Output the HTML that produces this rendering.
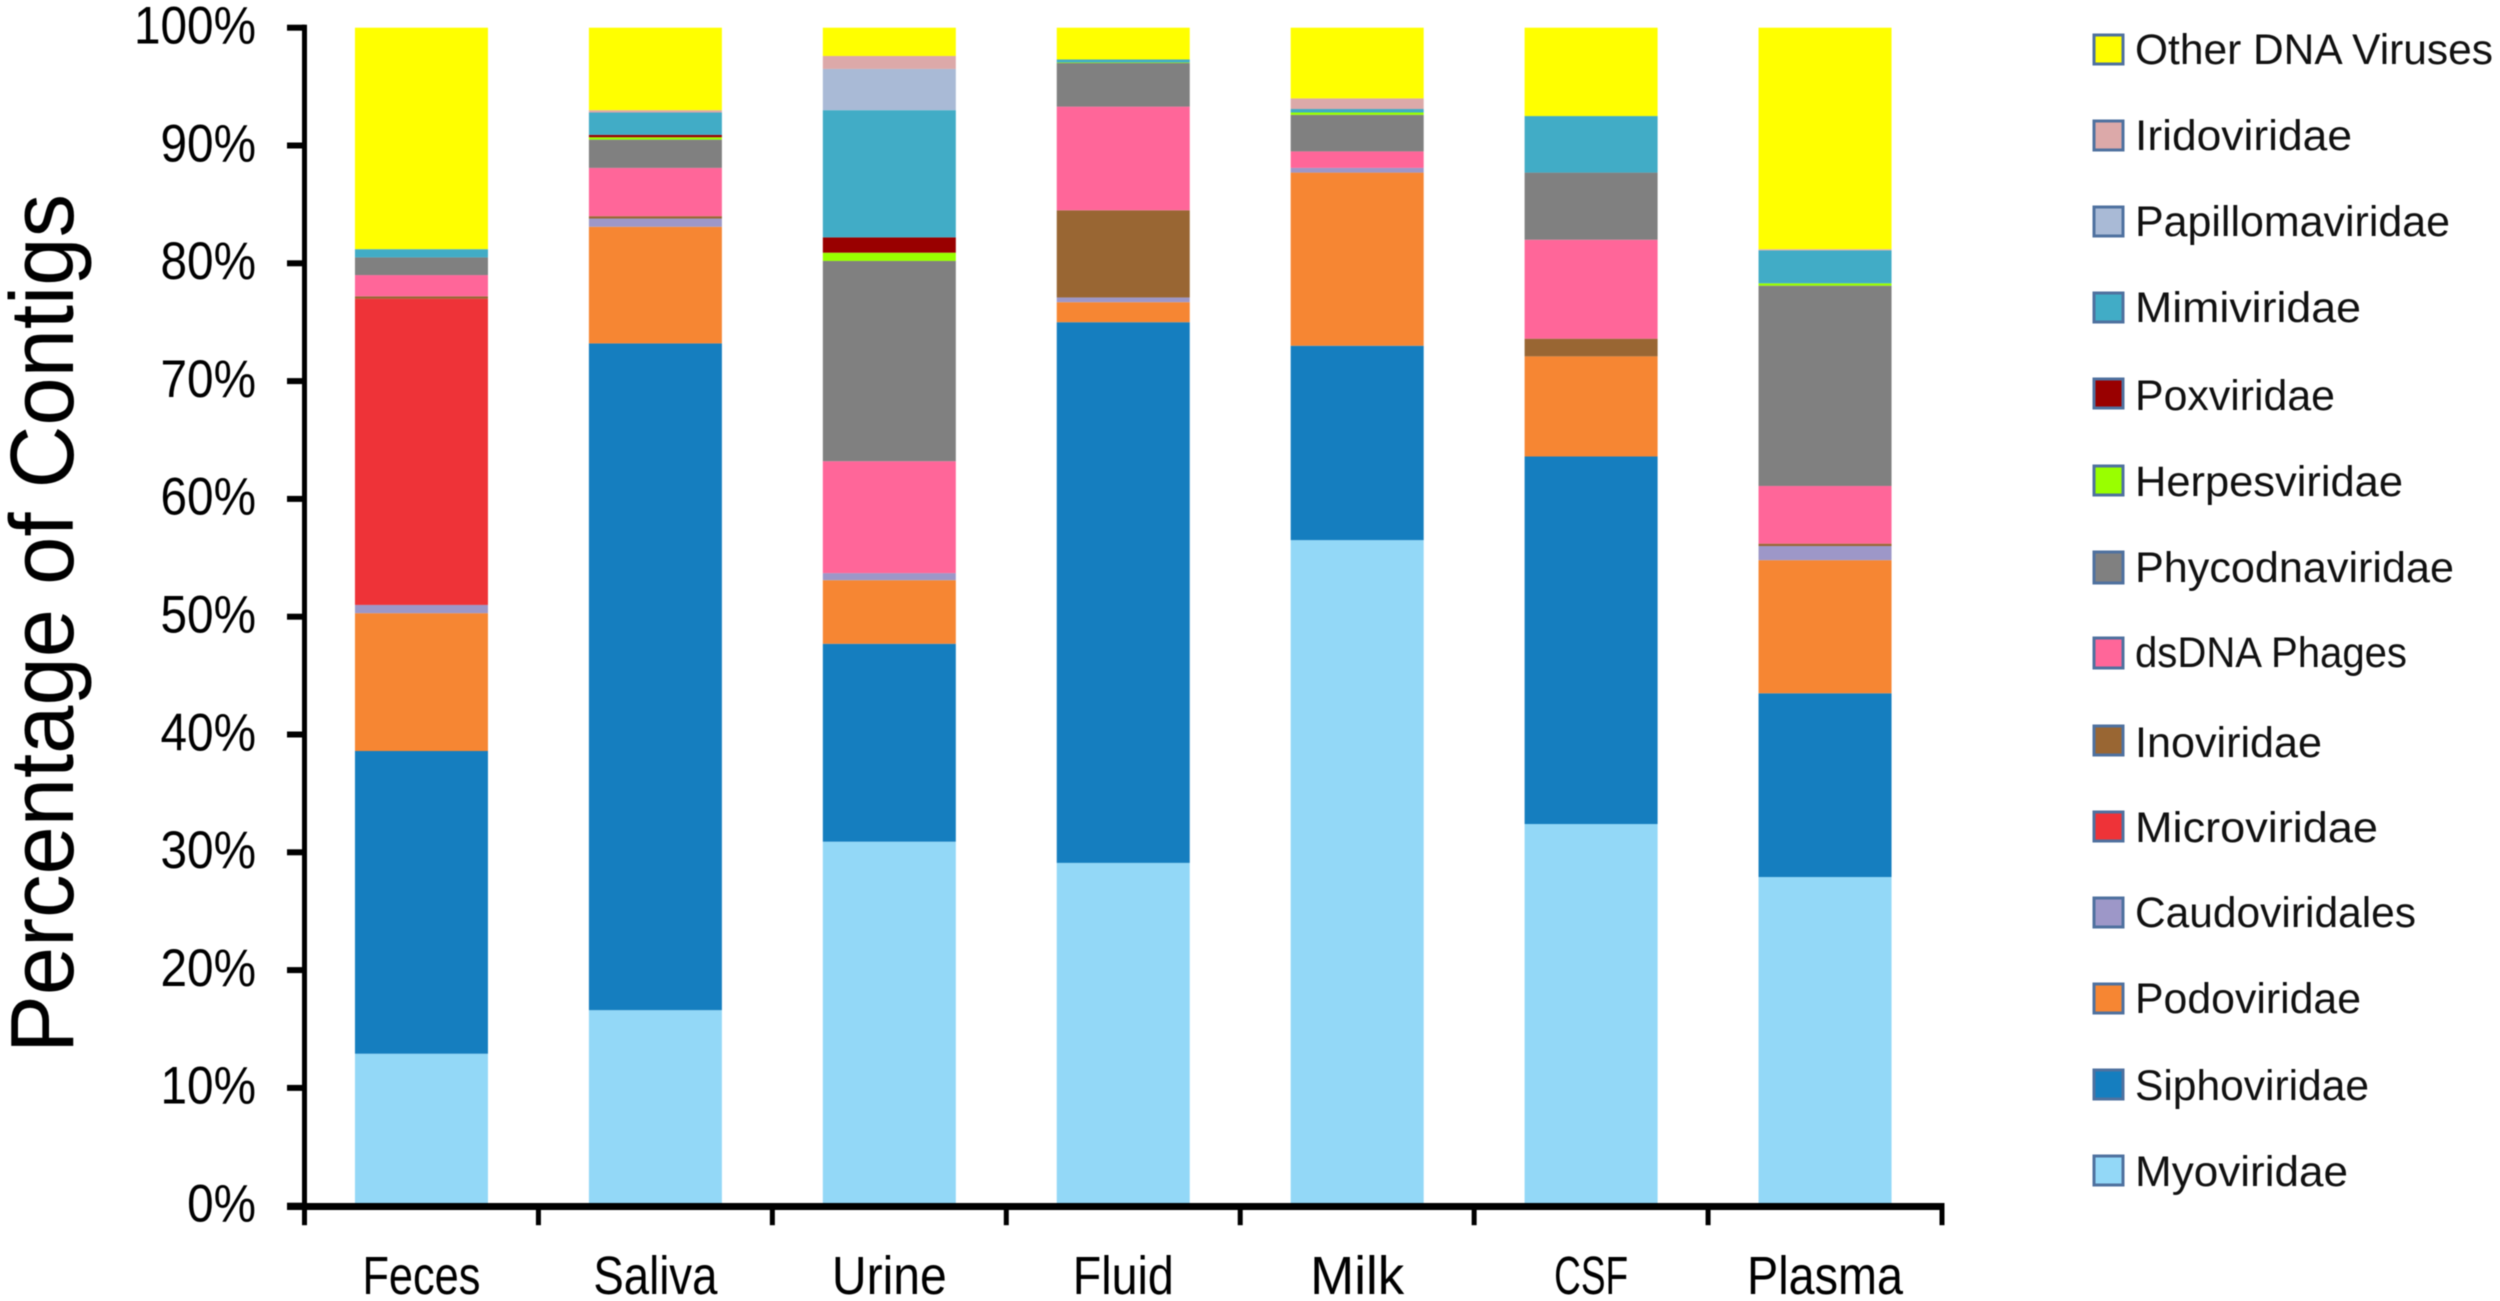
<!DOCTYPE html>
<html lang="en">
<head>
<meta charset="utf-8">
<title>Percentage of Contigs by Sample Type</title>
<style>
  html, body { margin: 0; padding: 0; background: #fff; }
  body { width: 2500px; height: 1301px; overflow: hidden; }
  svg { display: block; filter: blur(0.6px); }
  text { font-family: "Liberation Sans", sans-serif; fill: #000; }
  .tick-label { font-size: 53px; }
  .cat-label { font-size: 54px; }
  .leg-label { font-size: 43px; fill: #111; }
  .axis-title { font-size: 90px; }
  .swatch { stroke: #4f719f; stroke-width: 3; }
</style>
</head>
<body>
<svg id="chart" width="2500" height="1301" viewBox="0 0 2500 1301" xmlns="http://www.w3.org/2000/svg">
  <rect x="0" y="0" width="2500" height="1301" fill="#ffffff"/>
  <g id="bars"></g>
  <g id="axes"></g>
  <text class="axis-title" transform="translate(73 1053) rotate(-90)" x="0" y="0" textLength="859" lengthAdjust="spacingAndGlyphs">Percentage of Contigs</text>
  <g>
    <g><rect class="swatch" x="2094" y="35" width="29" height="29" fill="#ffff00"/><text class="leg-label" x="2135" y="64" textLength="358" lengthAdjust="spacingAndGlyphs">Other DNA Viruses</text></g>
    <g><rect class="swatch" x="2094" y="121" width="29" height="29" fill="#dca9a9"/><text class="leg-label" x="2135" y="150" textLength="217" lengthAdjust="spacingAndGlyphs">Iridoviridae</text></g>
    <g><rect class="swatch" x="2094" y="207" width="29" height="29" fill="#a9bad6"/><text class="leg-label" x="2135" y="236" textLength="315" lengthAdjust="spacingAndGlyphs">Papillomaviridae</text></g>
    <g><rect class="swatch" x="2094" y="293" width="29" height="29" fill="#41acc6"/><text class="leg-label" x="2135" y="322" textLength="226" lengthAdjust="spacingAndGlyphs">Mimiviridae</text></g>
    <g><rect class="swatch" x="2094" y="379" width="29" height="29" fill="#990000"/><text class="leg-label" x="2135" y="410" textLength="200" lengthAdjust="spacingAndGlyphs">Poxviridae</text></g>
    <g><rect class="swatch" x="2094" y="466" width="29" height="29" fill="#99ff00"/><text class="leg-label" x="2135" y="496" textLength="268" lengthAdjust="spacingAndGlyphs">Herpesviridae</text></g>
    <g><rect class="swatch" x="2094" y="552" width="29" height="31" fill="#808080"/><text class="leg-label" x="2135" y="582" textLength="319" lengthAdjust="spacingAndGlyphs">Phycodnaviridae</text></g>
    <g><rect class="swatch" x="2094" y="638" width="29" height="30" fill="#ff6699"/><text class="leg-label" x="2135" y="667" textLength="272" lengthAdjust="spacingAndGlyphs">dsDNA Phages</text></g>
    <g><rect class="swatch" x="2094" y="726" width="29" height="29" fill="#996633"/><text class="leg-label" x="2135" y="757" textLength="187" lengthAdjust="spacingAndGlyphs">Inoviridae</text></g>
    <g><rect class="swatch" x="2094" y="812" width="29" height="29" fill="#ee3338"/><text class="leg-label" x="2135" y="842" textLength="243" lengthAdjust="spacingAndGlyphs">Microviridae</text></g>
    <g><rect class="swatch" x="2094" y="898" width="29" height="29" fill="#9d97c8"/><text class="leg-label" x="2135" y="927" textLength="281" lengthAdjust="spacingAndGlyphs">Caudoviridales</text></g>
    <g><rect class="swatch" x="2094" y="984" width="29" height="29" fill="#f68633"/><text class="leg-label" x="2135" y="1013" textLength="226" lengthAdjust="spacingAndGlyphs">Podoviridae</text></g>
    <g><rect class="swatch" x="2094" y="1070" width="29" height="29" fill="#157ebf"/><text class="leg-label" x="2135" y="1100" textLength="234" lengthAdjust="spacingAndGlyphs">Siphoviridae</text></g>
    <g><rect class="swatch" x="2094" y="1156" width="29" height="29" fill="#93d8f7"/><text class="leg-label" x="2135" y="1186" textLength="213" lengthAdjust="spacingAndGlyphs">Myoviridae</text></g>
  </g>
</svg>
<script>
// Chart data: percentage of contigs per sample type
const categories = ["Feces", "Saliva", "Urine", "Fluid", "Milk", "CSF", "Plasma"];
const yTickValues = [0, 10, 20, 30, 40, 50, 60, 70, 80, 90, 100];

const myoviridae      = [12.9, 16.6, 30.9, 29.1, 56.5, 32.4, 27.9];
const siphoviridae    = [25.7, 56.6, 16.8, 45.9, 16.5, 31.2, 15.6];
const podoviridae     = [11.7, 9.9, 5.4, 1.7, 14.7, 8.5, 11.3];
const caudoviridales  = [0.7, 0.7, 0.6, 0.4, 0.4, 0, 1.2];
const microviridae    = [26.0, 0, 0, 0, 0, 0, 0];
const inoviridae      = [0.2, 0.2, 0, 7.4, 0, 1.5, 0.2];
const dsdnaPhages     = [1.8, 4.1, 9.5, 8.8, 1.4, 8.4, 4.9];
const phycodnaviridae = [1.5, 2.4, 17.0, 3.7, 3.1, 5.7, 17.0];
const herpesviridae   = [0, 0.2, 0.7, 0.05, 0.2, 0, 0.2];
const poxviridae      = [0, 0.2, 1.3, 0, 0, 0, 0];
const mimiviridae     = [0.7, 1.9, 10.8, 0.25, 0.3, 4.8, 2.8];
const papillomaviridae = [0, 0, 3.5, 0, 0, 0, 0];
const iridoviridae    = [0, 0.2, 1.1, 0, 0.9, 0, 0.1];
const otherDnaViruses = [18.8, 7.0, 2.4, 2.7, 6.0, 7.5, 18.8];

const seriesNames = ["myoviridae", "siphoviridae", "podoviridae", "caudoviridales", "microviridae", "inoviridae", "dsdna-phages", "phycodnaviridae", "herpesviridae", "poxviridae", "mimiviridae", "papillomaviridae", "iridoviridae", "other-dna-viruses"];
const seriesValues = [myoviridae, siphoviridae, podoviridae, caudoviridales, microviridae, inoviridae, dsdnaPhages, phycodnaviridae, herpesviridae, poxviridae, mimiviridae, papillomaviridae, iridoviridae, otherDnaViruses];
const seriesColors = ["#93d8f7", "#157ebf", "#f68633", "#9d97c8", "#ee3338", "#996633", "#ff6699", "#808080", "#99ff00", "#990000", "#41acc6", "#a9bad6", "#dca9a9", "#ffff00"];

// Axis functions
const NS = "http://www.w3.org/2000/svg";
const plotLeft = 304.5, plotRight = 1942, plotZero = 1205.7, plotTop = 27.7;
const barWidth = 133;
function yScale(v) { return plotZero - (plotZero - plotTop) * v / 100; }
function bandWidth() { return (plotRight - plotLeft) / categories.length; }
function xCenter(i) { return plotLeft + bandWidth() * (i + 0.5); }

// Horizontal condensing of category labels, to mimic the original narrow face
function categoryLabelWidth(cat) {
  if (cat === "Feces") return 118;
  if (cat === "Saliva") return 124;
  if (cat === "Urine") return 115;
  if (cat === "Fluid") return 101;
  if (cat === "Milk") return 94;
  if (cat === "CSF") return 74;
  return 156;
}

function make(tag, attrs, parent) {
  const el = document.createElementNS(NS, tag);
  for (const k in attrs) el.setAttribute(k, attrs[k]);
  parent.appendChild(el);
  return el;
}
function squeeze(el, factor) {
  el.setAttribute("textLength", (el.getComputedTextLength() * factor).toFixed(1));
  el.setAttribute("lengthAdjust", "spacingAndGlyphs");
}

// Bars
const barsGroup = document.getElementById("bars");
categories.forEach(function (cat, c) {
  let cumulative = 0;
  seriesValues.forEach(function (values, s) {
    const start = cumulative;
    cumulative += values[c];
    if (values[c] <= 0) return;
    const rect = make("rect", {
      x: xCenter(c) - barWidth / 2,
      y: yScale(cumulative),
      width: barWidth,
      height: yScale(start) - yScale(cumulative),
      fill: seriesColors[s]
    }, barsGroup);
    
    
  });
});

// Axes
const axesGroup = document.getElementById("axes");
const yAxisLine = make("rect", { x: plotLeft - 2.5, y: plotTop - 3, width: 5, height: plotZero - plotTop + 5, fill: "#000" }, axesGroup);


const xAxisLine = make("rect", { x: 287, y: plotZero - 2.7, width: plotRight - 287 + 2.5, height: 7, fill: "#000" }, axesGroup);



yTickValues.forEach(function (v) {
  const tick = make("rect", { x: 287, y: yScale(v) - 3, width: 18, height: 6, fill: "#000" }, axesGroup);
  
  
  const label = make("text", { x: 256, y: yScale(v) + 15.8, "text-anchor": "end", "class": "tick-label" }, axesGroup);
  
  
  label.textContent = v + "%";
  squeeze(label, 0.9);
});

for (let i = 0; i <= categories.length; i++) {
  const tick = make("rect", { x: plotLeft + bandWidth() * i - 2.5, y: plotZero, width: 5, height: 19.5, fill: "#000" }, axesGroup);
  
  
}
categories.forEach(function (cat, c) {
  const label = make("text", { x: xCenter(c), y: 1294, "text-anchor": "middle", "class": "cat-label", textLength: categoryLabelWidth(cat), lengthAdjust: "spacingAndGlyphs" }, axesGroup);
  
  
  label.textContent = cat;
});
</script>
</body>
</html>
